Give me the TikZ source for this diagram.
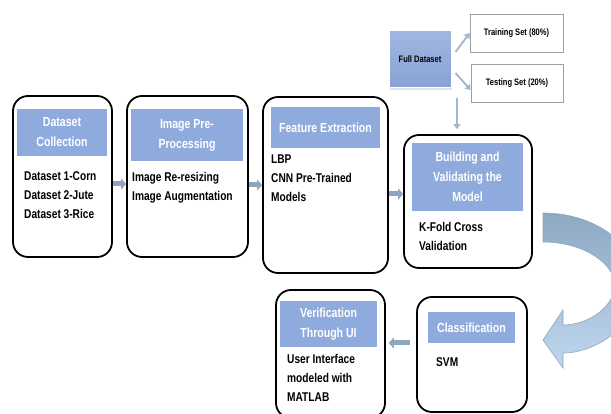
\documentclass[tikz,border=0pt]{standalone}
\usepackage{fontspec}
\setmainfont{Liberation Sans}[FakeStretch=0.8]
\usetikzlibrary{arrows.meta,shadows,calc}
\definecolor{hdr}{HTML}{8FAADC}
\definecolor{arr}{HTML}{8EA6C2}
\definecolor{arrline}{HTML}{A3B6CD}
\definecolor{cdark}{HTML}{8DA8C2}
\definecolor{clight}{HTML}{BFD7EE}
\tikzset{
  outer/.style={draw=black, line width=1.8pt, rounded corners=15pt, fill=white, inner sep=0pt},
  hdrbox/.style={fill=hdr, text=white, font=\bfseries\fontsize{13.2}{20}\selectfont, align=center, inner sep=0pt},
  body/.style={anchor=north west, inner sep=0pt, align=left, font=\bfseries\fontsize{12.7}{19}\selectfont},
  blk/.style={draw=arr, line width=5pt, -{Triangle[length=5pt,width=11pt]}},
  thin/.style={draw=arrline, line width=1.8pt, -{Triangle[length=5pt,width=7pt]}},
  setbox/.style={draw=gray!75, line width=0.8pt, fill=white, inner sep=0pt, font=\bfseries\fontsize{9.4}{10}\selectfont,
     drop shadow={shadow xshift=1pt, shadow yshift=-1.5pt, fill=gray!45}},
}
\begin{document}
\begin{tikzpicture}[x=1pt,y=-1pt]
\clip (0,0) rectangle (611,414);
\fill[white] (0,0) rectangle (611,414);

% main boxes
\node[outer, minimum width=99pt, minimum height=161pt] (b1) at (62.5,176.5) {};
\node[outer, minimum width=121pt, minimum height=161pt] (b2) at (187.5,176.5) {};
\node[outer, minimum width=125pt, minimum height=176pt] (b3) at (325.5,185) {};
\node[outer, minimum width=128pt, minimum height=133pt] (b4) at (468,201.5) {};
\node[outer, minimum width=110pt, minimum height=115pt] (b5) at (472,354.5) {};
\node[outer, minimum width=109pt, minimum height=128pt] (b6) at (330.5,354) {};

% headers
\node[hdrbox, minimum width=90pt, minimum height=47pt] (h1) at (62,132.5) {Dataset\\Collection};
\node[hdrbox, minimum width=112pt, minimum height=52pt] (h2) at (187,135) {Image Pre-\\Processing};
\node[hdrbox, minimum width=109pt, minimum height=41pt] (h3) at (325.5,127.5) {Feature Extraction};
\node[hdrbox, minimum width=111pt, minimum height=68pt] (h4) at (467.5,177) {Building and\\Validating the\\Model};
\node[hdrbox, minimum width=87pt, minimum height=31pt] (h5) at (471.5,327.5) {Classification};
\node[hdrbox, minimum width=97pt, minimum height=46pt] (h6) at (328.5,324) {Verification\\Through UI};

% body texts
\node[body] (t1) at (24,171) {Dataset 1-Corn\\Dataset 2-Jute\\Dataset 3-Rice};
\node[body] (t2) at (132,172) {Image Re-resizing\\Image Augmentation};
\node[body] (t3) at (271,155) {LBP\\CNN Pre-Trained\\Models};
\node[body] (t4) at (419,222) {K-Fold Cross\\Validation};
\node[body] (t5) at (436,357) {SVM};
\node[body] (t6) at (287,354) {User Interface\\modeled with\\MATLAB};

% block arrows between boxes
\draw[blk] ([yshift=-7.5pt]b1.east) -- ([yshift=-7.5pt]b2.west);
\draw[blk] ([yshift=-8.5pt]b2.east) -- ([yshift=-8.5pt]b2.east -| b3.west);
\draw[blk] ([yshift=-9pt]b3.east) -- ([yshift=-9pt]b3.east -| b4.west);
\draw[blk, shorten <=6pt, shorten >=3pt] ([yshift=11.5pt]b5.west) -- ([yshift=11.5pt]b5.west -| b6.east);

% dataset split
\node[draw=white, line width=1pt, inner sep=0pt, minimum width=62pt, minimum height=57pt,
      top color=hdr!85, bottom color=hdr!95!black, font=\bfseries\fontsize{9.4}{10}\selectfont,
      drop shadow={shadow xshift=1pt, shadow yshift=-2pt, fill=gray!45}] (fd) at (420,59.5) {Full Dataset};
\node[setbox, minimum width=93pt, minimum height=38pt] (tr) at (516.5,33) {Training Set (80\%)};
\node[setbox, minimum width=92pt, minimum height=38pt] (te) at (517,83) {Testing Set (20\%)};
\draw[thin] ([xshift=4pt,yshift=7.5pt]fd.east) -- (tr.west);
\draw[thin] ([xshift=4pt,yshift=-13.5pt]fd.east) -- ([yshift=-7pt]te.west);
\coordinate (dtop) at (457,98);
\draw[thin] (dtop) -- ([yshift=5pt]dtop |- b4.north);

% curved block arrow
\path[draw=cdark, line width=0.6pt, top color=cdark, bottom color=clight]
  (543,213) .. controls (600,213) and (640,250) .. (640,285)
  .. controls (640,320) and (600,353) .. (563,353)
  -- (563,368) -- (543,340) -- (563,310) -- (563,325)
  .. controls (590,325) and (615,305) .. (615,285)
  .. controls (615,265) and (585,242) .. (543,242) -- cycle;
\end{tikzpicture}
\end{document}
